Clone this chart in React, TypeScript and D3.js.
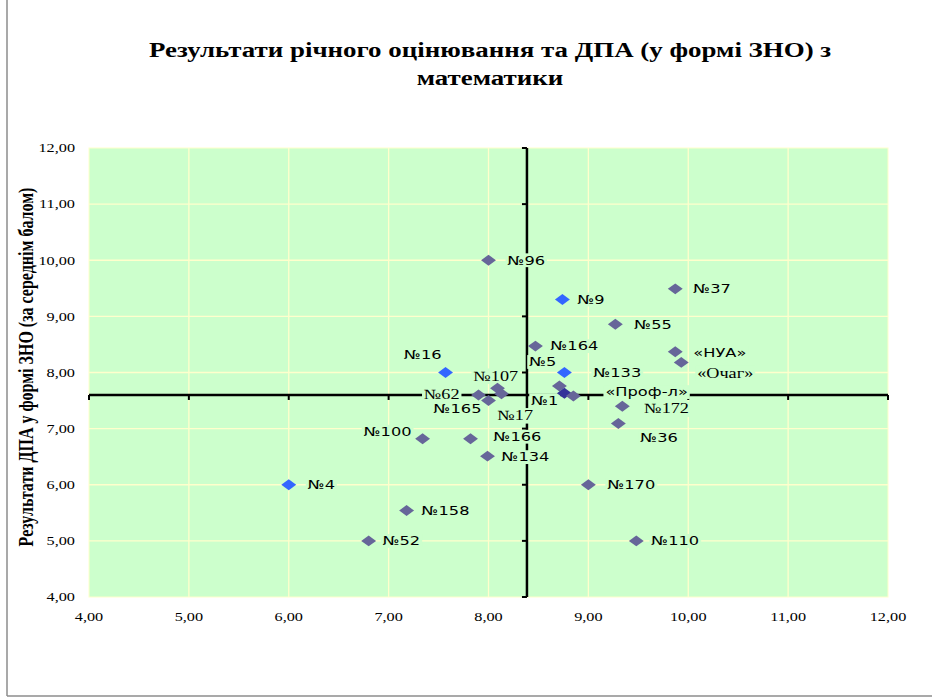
import React, { useRef, useEffect } from 'react';
import * as d3 from 'd3';

// School names, annual grade (x) and DPA/ZNO score (y)
const schools = [
  '№96', '№9', '№164', '№16', '№133', '№5', '№1', '«Проф-л»', '№107', '№17', '№62', '№165', '№37',
  '№55', '«НУА»', '«Очаг»', '№172', '№36', '№100', '№166', '№134', '№4', '№158', '№52', '№170', '№110',
];
const annualScores = [
  8.0, 8.74, 8.47, 7.57, 8.76, 8.71, 8.76, 8.85, 8.09, 8.13, 7.9, 8.0, 9.87,
  9.27, 9.87, 9.93, 9.34, 9.3, 7.34, 7.82, 7.99, 6.0, 7.18, 6.8, 9.0, 9.48,
];
const znoScores = [
  10.0, 9.3, 8.47, 8.0, 8.0, 7.76, 7.63, 7.58, 7.72, 7.62, 7.6, 7.5, 9.49,
  8.86, 8.37, 8.18, 7.4, 7.09, 6.82, 6.82, 6.51, 6.0, 5.54, 5.0, 6.0, 5.0,
];
// averages where the two black axes cross
const crossAnnual = 8.385;
const crossZno = 7.6;

const blueSchools = ['№16', '№9', '№4', '№133'];
const navySchools = ['№1'];

const tickValues = [4, 5, 6, 7, 8, 9, 10, 11, 12];

const chartTitle = ['Результати річного оцінювання та ДПА (у формі ЗНО) з', 'математики'];
const yAxisTitle = 'Результати ДПА у формі ЗНО (за середнім балом)';

// label offsets from the marker (px), as the labels were moved by hand
const labelPlacement: { [name: string]: { dx: number; dy: number; anchor: string; serif?: boolean } } = {
  '№96': { dx: 19, dy: 0, anchor: 'start' },
  '№9': { dx: 15, dy: 0, anchor: 'start' },
  '№164': { dx: 15, dy: 0, anchor: 'start' },
  '№16': { dx: -4, dy: -18, anchor: 'end' },
  '№133': { dx: 29, dy: 0, anchor: 'start' },
  '№5': { dx: -3, dy: -24, anchor: 'end' },
  '№1': { dx: -6, dy: 7, anchor: 'end' },
  '«Проф-л»': { dx: 32, dy: -4, anchor: 'start' },
  '№107': { dx: -24, dy: -12, anchor: 'start', serif: true },
  '№17': { dx: -4, dy: 22, anchor: 'start', serif: true },
  '№62': { dx: -19, dy: 0, anchor: 'end', serif: true },
  '№165': { dx: -7, dy: 8, anchor: 'end' },
  '№37': { dx: 18, dy: 0, anchor: 'start' },
  '№55': { dx: 19, dy: 0, anchor: 'start' },
  '«НУА»': { dx: 18, dy: 1, anchor: 'start' },
  '«Очаг»': { dx: 16, dy: 11, anchor: 'start', serif: true },
  '№172': { dx: 22, dy: 3, anchor: 'start', serif: true },
  '№36': { dx: 22, dy: 14, anchor: 'start' },
  '№100': { dx: -11, dy: -7, anchor: 'end' },
  '№166': { dx: 23, dy: -2, anchor: 'start' },
  '№134': { dx: 14, dy: 1, anchor: 'start' },
  '№4': { dx: 19, dy: 0, anchor: 'start' },
  '№158': { dx: 15, dy: 0, anchor: 'start' },
  '№52': { dx: 14, dy: 0, anchor: 'start' },
  '№170': { dx: 19, dy: 0, anchor: 'start' },
  '№110': { dx: 15, dy: 0, anchor: 'start' },
};

const WIDTH = 932;
const HEIGHT = 697;
const STRETCH = 1.3; // the original picture is stretched horizontally
const PLOT_BG = '#ccffcc';
const GRID = '#ffffcc';
const SERIF = '"Liberation Serif", "Times New Roman", serif';
const SANS = '"DejaVu Sans", Verdana, sans-serif';

export default function App() {
  const svgRef = useRef<SVGSVGElement>(null);

  useEffect(() => {
    if (!svgRef.current) return;
    document.body.style.margin = '0';

    const svg = d3.select(svgRef.current);
    svg.selectAll('*').remove();

    const margin = { top: 148, right: 44, bottom: 100, left: 89 };
    const x = d3.scaleLinear().domain([4, 12]).range([margin.left, WIDTH - margin.right]);
    const y = d3.scaleLinear().domain([4, 12]).range([HEIGHT - margin.bottom, margin.top]);

    const stretched = (parent: any, tx: number, ty: number, extra = '') =>
      parent.append('g').attr('transform', `translate(${tx},${ty}) scale(${STRETCH},1)${extra}`);

    svg.append('rect').attr('width', WIDTH).attr('height', HEIGHT).attr('fill', '#fff');

    // outer chart border (only left & bottom visible)
    svg.append('line').attr('x1', 7).attr('x2', 7).attr('y1', 0).attr('y2', 696)
      .attr('stroke', '#8c8c8c').attr('stroke-width', 1.5);
    svg.append('line').attr('x1', 7).attr('x2', WIDTH).attr('y1', 696).attr('y2', 696)
      .attr('stroke', '#8c8c8c').attr('stroke-width', 1.5);

    // title
    chartTitle.forEach((line, i) => {
      stretched(svg, 490, 57 + i * 28)
        .append('text')
        .attr('text-anchor', 'middle')
        .attr('font-family', SERIF)
        .attr('font-weight', 'bold')
        .attr('font-size', '20.7px')
        .attr('fill', '#000')
        .text(line);
    });

    // plot area
    svg.append('rect')
      .attr('x', x(4)).attr('y', y(12))
      .attr('width', x(12) - x(4)).attr('height', y(4) - y(12))
      .attr('fill', PLOT_BG).attr('stroke', GRID).attr('stroke-width', 1);

    const grid = svg.append('g').attr('stroke', GRID).attr('stroke-width', 1.3);
    tickValues.slice(1, -1).forEach((v) => {
      grid.append('line').attr('x1', x(v)).attr('x2', x(v)).attr('y1', y(12)).attr('y2', y(4));
      grid.append('line').attr('x1', x(4)).attr('x2', x(12)).attr('y1', y(v)).attr('y2', y(v));
    });

    // tick labels
    const fmt = (v: number) => d3.format('.2f')(v).replace('.', ',');
    tickValues.forEach((v) => {
      stretched(svg, 75, y(v))
        .append('text')
        .attr('text-anchor', 'end')
        .attr('dominant-baseline', 'central')
        .attr('font-family', SERIF)
        .attr('font-size', '12.5px')
        .text(fmt(v));
      stretched(svg, x(v), 617)
        .append('text')
        .attr('text-anchor', 'middle')
        .attr('dominant-baseline', 'central')
        .attr('font-family', SERIF)
        .attr('font-size', '12.5px')
        .text(fmt(v));
    });

    // y axis title
    stretched(svg, 26, 367, ' rotate(-90)')
      .append('text')
      .attr('text-anchor', 'middle')
      .attr('dominant-baseline', 'central')
      .attr('font-family', SERIF)
      .attr('font-weight', 'bold')
      .attr('font-size', '16px')
      .text(yAxisTitle);

    // crossing axes at the averages
    const axes = svg.append('g').attr('stroke', '#000').attr('stroke-width', 2.5);
    const cx = x(crossAnnual);
    const cy = y(crossZno);
    axes.append('line').attr('x1', x(4)).attr('x2', x(12)).attr('y1', cy).attr('y2', cy);
    axes.append('line').attr('x1', cx).attr('x2', cx).attr('y1', y(12)).attr('y2', y(4));
    tickValues.forEach((v) => {
      axes.append('line').attr('x1', x(v)).attr('x2', x(v)).attr('y1', cy).attr('y2', cy + 5)
        .attr('stroke-width', 2);
      axes.append('line').attr('x1', cx - 5).attr('x2', cx).attr('y1', y(v)).attr('y2', y(v))
        .attr('stroke-width', 2);
    });

    // data labels (with plot-coloured background)
    const labels = svg.append('g');
    schools.forEach((name, i) => {
      const p = labelPlacement[name];
      const g = stretched(labels, x(annualScores[i]) + p.dx, y(znoScores[i]) + p.dy);
      const t = g.append('text')
        .attr('text-anchor', p.anchor)
        .attr('dominant-baseline', 'central')
        .attr('font-family', p.serif ? SERIF : SANS)
        .attr('font-size', p.serif ? '14px' : '12.5px')
        .attr('fill', '#000')
        .text(name);
      const bb = (t.node() as SVGTextElement).getBBox();
      g.insert('rect', 'text')
        .attr('x', bb.x - 1.5).attr('y', bb.y)
        .attr('width', bb.width + 3).attr('height', bb.height)
        .attr('fill', PLOT_BG);
    });

    // markers
    const diamond = d3.symbol().type(d3.symbolSquare).size(60)();
    svg.append('g')
      .selectAll('path')
      .data(schools)
      .join('path')
      .attr('d', diamond)
      .attr('transform', (_, i) => `translate(${x(annualScores[i])},${y(znoScores[i])}) scale(1.36,1) rotate(45)`)
      .attr('fill', (d) => (blueSchools.includes(d) ? '#3366ff' : navySchools.includes(d) ? '#333399' : '#666699'));
  }, []);

  return <svg ref={svgRef} width={WIDTH} height={HEIGHT} style={{ display: 'block' }} />;
}
